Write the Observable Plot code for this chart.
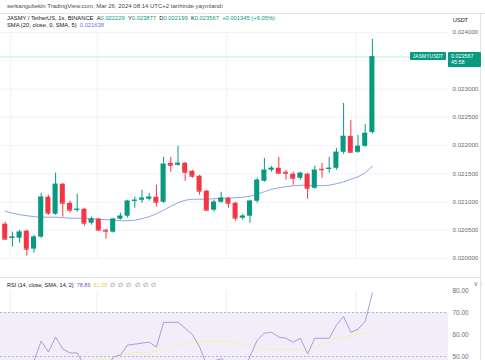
<!DOCTYPE html>
<html>
<head>
<meta charset="utf-8">
<script src="https://cdn.jsdelivr.net/npm/d3@7"></script>
<script src="https://cdn.jsdelivr.net/npm/@observablehq/plot@0.6"></script>
<style>
  html, body { margin: 0; padding: 0; background: #fff; }
  #root { position: relative; width: 485px; height: 360px; overflow: hidden; font-family: "Liberation Sans", Arial, sans-serif; color: #131722; }
  .t { position: absolute; white-space: nowrap; }
  .hl { position: absolute; background: #e0e3eb; }
  #price, #rsi { position: absolute; left: 0; }
</style>
</head>
<body>
<div id="root"></div>
<script>
// ---------- DATA ----------
const open  = [0.020607,0.020360,0.020360,0.020484,0.020166,0.020378,0.021085,0.020784,0.021314,0.020978,
               0.020855,0.020872,0.020625,0.020696,0.020501,0.020466,0.020696,0.020749,0.021014,0.021031,
               0.021049,0.021085,0.020996,0.021685,0.021650,0.021685,0.021544,0.021456,0.021191,0.020855,
               0.020996,0.021067,0.020978,0.020713,0.020749,0.021014,0.021367,0.021562,0.021597,0.021526,
               0.021491,0.021420,0.021491,0.021243,0.021579,0.021579,0.021597,0.021880,0.022162,0.021880,
               0.021986,0.022229];
const high  = [0.020643,0.020466,0.020501,0.020501,0.020413,0.021155,0.021120,0.021509,0.021332,0.021014,
               0.021137,0.020890,0.020731,0.020713,0.020519,0.020713,0.020802,0.021031,0.021085,0.021208,
               0.021155,0.021297,0.021791,0.021791,0.021986,0.021703,0.021562,0.021473,0.021208,0.021031,
               0.021173,0.021085,0.020996,0.020784,0.021031,0.021420,0.021774,0.021632,0.021791,0.021562,
               0.021526,0.021526,0.021509,0.021632,0.021685,0.021791,0.021950,0.022745,0.022445,0.022180,
               0.022374,0.023877];
const low   = [0.020325,0.020201,0.020272,0.020042,0.020095,0.020360,0.020766,0.020766,0.020731,0.020802,
               0.020819,0.020572,0.020590,0.020484,0.020342,0.020448,0.020678,0.020713,0.020890,0.020978,
               0.021014,0.020908,0.020978,0.021526,0.021632,0.021367,0.021420,0.021120,0.020837,0.020819,
               0.020978,0.020890,0.020660,0.020678,0.020625,0.020978,0.021350,0.021526,0.021491,0.021385,
               0.021297,0.021385,0.021049,0.021226,0.021420,0.021509,0.021562,0.021844,0.021862,0.021862,
               0.021968,0.022199];
const close = [0.020342,0.020378,0.020466,0.020166,0.020378,0.021085,0.020802,0.021314,0.020978,0.020855,
               0.020872,0.020625,0.020696,0.020501,0.020484,0.020696,0.020749,0.021014,0.021031,0.021067,
               0.021085,0.020996,0.021668,0.021650,0.021685,0.021526,0.021456,0.021191,0.020855,0.020996,
               0.021067,0.020978,0.020713,0.020749,0.021014,0.021385,0.021562,0.021597,0.021509,0.021509,
               0.021420,0.021509,0.021243,0.021562,0.021570,0.021597,0.021880,0.022162,0.021880,0.021986,
               0.022215,0.023567];
const sma20 = [0.020837,0.020802,0.020775,0.020758,0.020740,0.020731,0.020731,0.020731,0.020722,0.020713,
               0.020713,0.020713,0.020705,0.020696,0.020687,0.020678,0.020669,0.020669,0.020678,0.020705,
               0.020740,0.020793,0.020855,0.020925,0.020987,0.021031,0.021049,0.021049,0.021049,0.021058,
               0.021067,0.021067,0.021076,0.021085,0.021102,0.021137,0.021182,0.021226,0.021252,0.021270,
               0.021288,0.021297,0.021297,0.021288,0.021288,0.021297,0.021323,0.021358,0.021402,0.021447,
               0.021517,0.021632];
const rsi14 = [45,44,46,42,48,57,52,58.8,53.4,51.6,
               51.6,46,48,44,43,49.8,50.7,55.2,55.6,56.1,
               56.5,54.3,65.5,65.5,65.6,62.8,60.1,54.3,46,48,
               49,47,42,43,50,57.4,60.6,61,58.8,58.3,
               56.5,58.3,51.2,58.3,58.3,58.3,64.2,68.2,61,62.4,
               66,78.86];
const rsiSma = [44,44.5,45,45.5,46,46.5,47,47,47.5,47.5,
                48,48,48.3,48.5,48.8,49.8,50.8,51.5,51.7,51.8,
                51.9,52.5,53.3,54.3,55.2,55.8,56.3,56.7,57,57,
                57,56.8,56.1,55.2,54.3,53.9,53.5,53.1,53,53,
                53,53.2,53.4,54.5,56,57.2,58.2,58.8,59.5,60.1,
                60.6,61.08];
const priceGrid = [0.020000,0.020500,0.021000,0.021500,0.022000,0.022500,0.023000,0.023500,0.024000];
const priceAxisTicks = [0.020000,0.020500,0.021000,0.021500,0.022000,0.022500,0.023000,0.024000];
const rsiTicks = [50,60,70,80];
const rsiLevels = [30,50,70];
const rsiBand = [30,70];
const gridX = [0.75,12.75,30.75,48.75];
const xDomain = [-0.653, 61.57];

const headerTitle = "serkangultekin TradingView.com, Mar 26, 2024 08:14 UTC+2 tarihinde yayınlandı";
const symbolText = "JASMY / TetherUS, 1s, BINANCE";
const ohlcLabels = ["A","Y","D","K"];
const ohlcValues = ["0.022229","0.023877","0.022199","0.023567"];
const changeText = "+0.001345 (+6.05%)";
const smaText = "SMA (20, close, 0, SMA, 5)";
const smaValue = "0.021638";
const rsiText = "RSI (14, close, SMA, 14, 2)";
const rsiValues = ["78.86","61.08"];
const rsiEmpty = ["∅","∅","∅","∅","∅","∅"];
const symbolLabel = "JASMYUSDT";
const countdown = "45:58";
const unitLabel = "USDT";

// ---------- BUILD ----------
const UP = "#089981", DOWN = "#f23645";
const candles = close.map((c, i) => ({i, open: open[i], high: high[i], low: low[i], close: c,
  color: c >= open[i] ? UP : DOWN}));
const smaRows = sma20.map((v, i) => ({i, v}));
const rsiRows = rsi14.map((v, i) => ({i, v}));
const rsiSmaRows = rsiSma.map((v, i) => ({i, v}));
const root = document.getElementById("root");
const FONT = "'Liberation Sans', Arial, sans-serif";

function addText(html, left, top, size, color, extra) {
  const d = document.createElement("div");
  d.className = "t";
  d.style.left = left + "px"; d.style.top = top + "px";
  d.style.fontSize = size + "px"; d.style.lineHeight = size + "px";
  d.style.color = color;
  if (extra) Object.assign(d.style, extra);
  d.innerHTML = html;
  root.appendChild(d);
  return d;
}
function box(left, top, width, height, color) {
  const d = document.createElement("div");
  Object.assign(d.style, {position: "absolute", left: left + "px", top: top + "px",
    width: width + "px", height: height + "px", background: color, borderRadius: "1px"});
  root.appendChild(d);
}
function hline(left, top, width, height) {
  const d = document.createElement("div");
  d.className = "hl";
  Object.assign(d.style, {left: left + "px", top: top + "px", width: width + "px", height: height + "px"});
  root.appendChild(d);
}

const price = Plot.plot({
  width: 485, height: 278,
  marginLeft: 0, marginRight: 37, marginTop: 32, marginBottom: 20,
  style: {fontSize: "6.2px", fontFamily: FONT, color: "#6a6d78", background: "transparent", overflow: "visible"},
  x: {domain: xDomain, axis: null},
  y: {domain: [priceGrid[0], priceGrid[priceGrid.length - 1]], axis: null},
  marks: [
    Plot.ruleY(priceGrid, {stroke: "#f0f3fa", strokeWidth: 1}),
    Plot.ruleX(gridX, {stroke: "#f0f3fa", strokeWidth: 1}),
    Plot.ruleY([close[close.length - 1]], {stroke: UP, strokeOpacity: 0.3, strokeWidth: 0.8}),
    Plot.line(smaRows, {x: "i", y: "v", stroke: "#8697ea", strokeWidth: 0.9}),
    Plot.ruleX(candles, {x: "i", y1: "low", y2: "high", stroke: "color", strokeWidth: 1}),
    Plot.rect(candles, {x1: d => d.i - 0.35, x2: d => d.i + 0.35,
      y1: d => Math.min(d.open, d.close), y2: d => Math.max(d.open, d.close), fill: "color"}),
    Plot.ruleY(candles, {y: "close", x1: d => d.i - 0.35, x2: d => d.i + 0.35, stroke: "color", strokeWidth: 1}),
    Plot.axisY({anchor: "right", ticks: priceAxisTicks, tickSize: 0, tickPadding: 4,
      tickFormat: d3.format(".6f"), textAnchor: "start"})
  ]
});
price.id = "price";
price.style.top = "0px";
root.appendChild(price);

const rsiChart = Plot.plot({
  width: 485, height: 132,
  marginLeft: 0, marginRight: 37, marginTop: 12, marginBottom: 10,
  style: {fontSize: "6.4px", fontFamily: FONT, color: "#6a6d78", background: "transparent", overflow: "visible"},
  x: {domain: xDomain, axis: null},
  y: {domain: [30, 80], axis: null},
  marks: [
    Plot.rect([rsiBand], {y1: d => d[0], y2: d => d[1], fill: "#7e57c2", fillOpacity: 0.1}),
    Plot.ruleX(gridX, {stroke: "#eceef4", strokeWidth: 1}),
    Plot.ruleY(rsiLevels, {stroke: "#9598a1", strokeDasharray: "2,2", strokeOpacity: 0.8, strokeWidth: 0.8}),
    Plot.line(rsiSmaRows, {x: "i", y: "v", stroke: "#f5efb8", strokeWidth: 1.1}),
    Plot.line(rsiRows, {x: "i", y: "v", stroke: "#a393d8", strokeWidth: 0.9}),
    Plot.axisY({anchor: "right", ticks: rsiTicks, tickSize: 0, tickPadding: 4,
      tickFormat: d3.format(".2f"), textAnchor: "start"})
  ]
});
rsiChart.id = "rsi";
rsiChart.style.top = "278px";
root.appendChild(rsiChart);

// frame lines
hline(0, 13, 485, 1);
hline(0, 277, 481, 1);
hline(480, 13, 1, 347);

// header
addText(headerTitle, 7, 3, 6, "#4a4a4a");
const ohlcHtml = ohlcLabels.map((l, k) =>
  `<span style="color:#131722">${l}</span><span style="color:${UP}">${ohlcValues[k]}</span>`).join("&nbsp;&nbsp;");
addText(`${symbolText}&nbsp;&nbsp;${ohlcHtml}&nbsp;&nbsp;<span style="color:${UP}">${changeText}</span>`, 7, 16, 5.8, "#131722");
addText(`${smaText}&nbsp;&nbsp;<span style="color:#5b7be0">${smaValue}</span>`, 7, 23, 5.8, "#131722");
addText(unitLabel, 453, 17.5, 5.5, "#131722");

// last price labels
const yLast = price.scale("y").apply(close[close.length - 1]);
box(410, yLast - 4, 36, 8, UP);
addText(symbolLabel, 410, yLast - 2.5, 5, "#fff", {width: "36px", textAlign: "center"});
box(448, yLast - 4.5, 33, 15, UP);
addText(d3.format(".6f")(close[close.length - 1]), 451, yLast - 2.5, 5.4, "#fff");
addText(countdown, 451, yLast + 4, 5.4, "#fff");

// RSI legend
addText(`${rsiText}&nbsp;&nbsp;<span style="color:#7e57c2">${rsiValues[0]}</span>&nbsp;&nbsp;<span style="color:#e8d44a">${rsiValues[1]}</span>&nbsp;&nbsp;<span style="color:#777">${rsiEmpty.join("&nbsp;&nbsp;")}</span>`,
  7, 283, 5.5, "#131722");
</script>
</body>
</html>
